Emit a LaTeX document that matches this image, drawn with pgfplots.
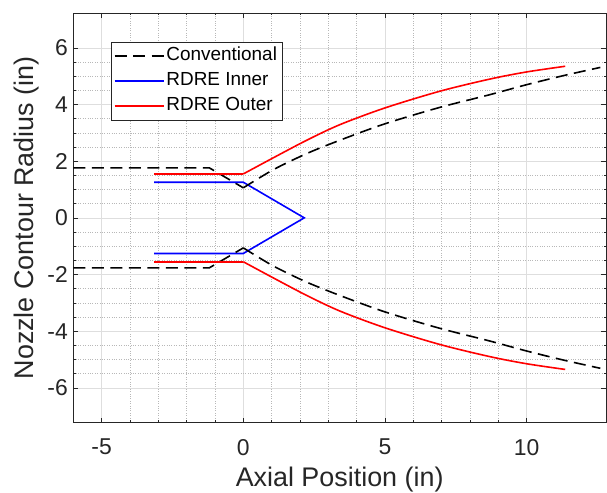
\documentclass[border=0pt]{standalone}
\usepackage{fontspec}
\setmainfont{Liberation Sans}
\usepackage{pgfplots}
\pgfplotsset{compat=1.18}
\definecolor{axgray}{gray}{0.15}
\definecolor{majgrid}{gray}{0.87}
\definecolor{mingrid}{gray}{0.72}

\begin{document}
\begin{tikzpicture}
\useasboundingbox (-73.3bp,-70.3bp) rectangle (533.7bp,422.7bp);
\begin{axis}[
  at={(0,0)}, anchor=south west,
  scale only axis, width=532.7bp, height=409.7bp,
  xmin=-6, xmax=12.8, ymin=-7.23, ymax=7.23,
  xtick={-5,0,5,10}, ytick={-6,-4,...,6},
  minor x tick num=4, minor y tick num=3,
  grid=both,
  major grid style={color=majgrid, line width=0.6bp},
  minor grid style={color=mingrid, dotted, line width=0.6bp},
  tick align=inside, major tick length=5bp, minor tick length=2.5bp,
  tick style={color=axgray, line width=0.6bp},
  axis line style={color=axgray, line width=0.8bp},
  /pgf/number format/assume math mode=true,
  ticklabel style={font=\fontsize{23}{26}\selectfont, text=axgray},
  xticklabel style={yshift=-13bp},
  yticklabel style={xshift=-2bp},
  xlabel={Axial Position (in)},
  ylabel={Nozzle Contour Radius (in)},
  label style={font=\fontsize{27}{30}\selectfont, text=axgray},
  xlabel style={at={(axis description cs:0.5,-0.156)}, anchor=base},
  ylabel style={at={(axis description cs:-0.0751,0.5)}, anchor=base},
  legend style={at={(rel axis cs:0.070,0.930)}, anchor=north west,
    draw=axgray, line width=0.6bp, fill=white,
    font=\fontsize{19}{22}\selectfont,
    inner xsep=3bp, inner ysep=3bp, row sep=3bp,
    nodes={inner sep=2bp, text height=14bp, text depth=4bp},
    /tikz/every even column/.append style={column sep=2bp}},
  legend cell align=left,
  legend image code/.code={\draw[#1] (0bp,0bp) -- (49bp,0bp);},
]
% upper contours (legend entries): chamber and converging parts
\addplot[black, line width=1.6bp, dash pattern=on 12bp off 6.5bp] coordinates {
  (-6,1.765) (-1.2,1.765) (0,1.06)};
\addlegendentry{Conventional}
\addplot[blue, line width=1.6bp] coordinates {
  (-3.15,1.257) (0,1.257) (2.15,0) (0,-1.257) (-3.15,-1.257)};
\addlegendentry{RDRE Inner}
\addplot[red, line width=1.6bp] coordinates {(-3.15,1.55) (0,1.55)};
\addlegendentry{RDRE Outer}
% diverging bell sections, upper
\addplot[forget plot, black, line width=1.6bp, dash pattern=on 12bp off 6.5bp,
  smooth, tension=0.5] coordinates {
  (0,1.06) (1.06,1.70) (2.24,2.27) (3.41,2.74)
  (5,3.32) (6.94,3.90) (8.71,4.35) (10,4.70) (11.3,5.02) (12.6,5.31)};
\addplot[forget plot, red, line width=1.6bp, smooth, tension=0.5] coordinates {
  (0,1.55) (1.06,2.12) (2.24,2.74) (3.41,3.29) (5,3.88)
  (6.94,4.47) (8.71,4.90) (10,5.15) (11.36,5.35)};
% lower (mirrored) contours
\addplot[forget plot, black, line width=1.6bp, dash pattern=on 12bp off 6.5bp] coordinates {
  (-6,-1.765) (-1.2,-1.765) (0,-1.06)};
\addplot[forget plot, black, line width=1.6bp, dash pattern=on 12bp off 6.5bp,
  smooth, tension=0.5] coordinates {
  (0,-1.06) (1.06,-1.70) (2.24,-2.27) (3.41,-2.74)
  (5,-3.32) (6.94,-3.90) (8.71,-4.35) (10,-4.70) (11.3,-5.02) (12.6,-5.31)};
\addplot[forget plot, red, line width=1.6bp] coordinates {(-3.15,-1.55) (0,-1.55)};
\addplot[forget plot, red, line width=1.6bp, smooth, tension=0.5] coordinates {
  (0,-1.55) (1.06,-2.12) (2.24,-2.74) (3.41,-3.29) (5,-3.88)
  (6.94,-4.47) (8.71,-4.90) (10,-5.15) (11.36,-5.35)};
\end{axis}
\end{tikzpicture}
\end{document}
